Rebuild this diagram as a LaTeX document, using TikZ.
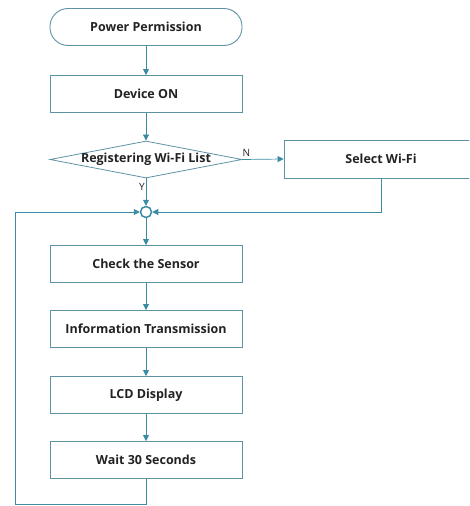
\documentclass[tikz,border=0pt]{standalone}
\usepackage{fontspec}
\setmainfont{Open Sans}
\usetikzlibrary{shapes.geometric,arrows.meta}
\definecolor{boxc}{HTML}{5E93A3}
\definecolor{arrc}{HTML}{3A8CA2}
\definecolor{txtc}{HTML}{222222}
\tikzset{
  px/.style={x=1pt,y=-1pt},
  txt/.style={font=\bfseries\fontsize{12.5}{14}\selectfont,text=txtc},
  stepbox/.style={draw=boxc,line width=0.9pt,minimum width=192pt,minimum height=37pt,inner sep=0pt,txt},
  termbox/.style={stepbox,rounded corners=18pt},
  decbox/.style={draw=boxc,line width=0.8pt,diamond,aspect=5.2,minimum width=192pt,minimum height=37pt,inner sep=0pt},
  conn/.style={draw=arrc,line width=0.7pt,-{Triangle[length=6pt,width=6pt]}},
  lbl/.style={font=\fontsize{10}{12}\selectfont,text=txtc,inner sep=0pt}
}
\begin{document}
\begin{tikzpicture}[px]
\useasboundingbox (0,0) rectangle (469,506);
\clip (0,0) rectangle (469,506);
\node[termbox] (pp) at (146,27) {Power Permission};
\node[stepbox] (don) at (146,94) {Device ON};
\node[decbox,label={[txt]center:Registering Wi-Fi List}] (reg) at (146,159.5) {};
\node[stepbox,minimum width=194pt,minimum height=38pt] (sel) at (381,159) {Select Wi-Fi};
\node[draw=arrc,circle,line width=1.5pt,minimum size=11pt,inner sep=0pt] (j) at (146,212) {};
\node[stepbox] (cs) at (146,264) {Check the Sensor};
\node[stepbox] (it) at (146,329) {Information Transmission};
\node[stepbox] (lcd) at (146,395) {LCD Display};
\node[stepbox] (w) at (146,460) {Wait 30 Seconds};
\coordinate (lb) at (15,504);
\coordinate (lt) at (15,212);
\draw[conn] (pp) -- (don);
\draw[conn] (don) -- (reg);
\draw[conn] (reg.east) -- (sel.west) node[lbl,pos=0.1,above,yshift=3pt] {N};
\draw[conn] (reg.south) -- (j.north) node[lbl,pos=0.3,left,xshift=-1pt] {Y};
\draw[conn] (sel.south -| 381,0) |- (j.east);
\draw[conn] (w.south) |- (lb) -- (lt) -- (j.west);
\draw[conn] (j) -- (cs);
\draw[conn] (cs) -- (it);
\draw[conn] (it) -- (lcd);
\draw[conn] (lcd) -- (w);
\end{tikzpicture}
\end{document}
